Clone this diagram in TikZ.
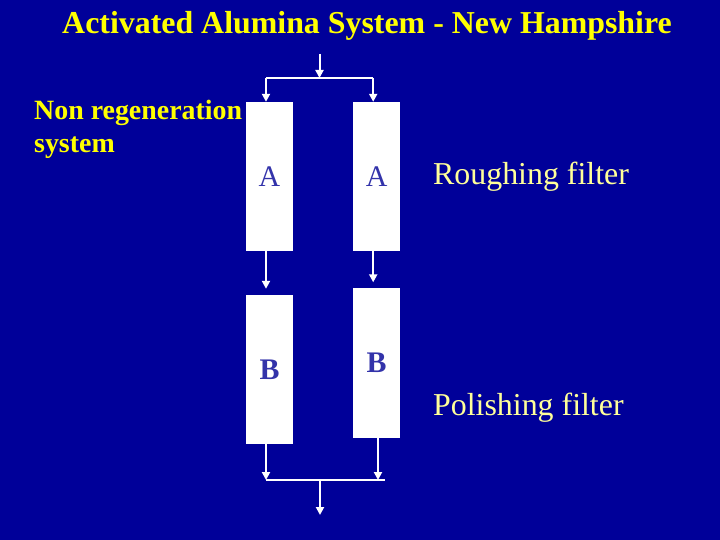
\documentclass[tikz,border=0pt]{standalone}
\usepackage{fontspec}
\setmainfont{Liberation Serif}
\usetikzlibrary{arrows.meta}

\definecolor{slideblue}{RGB}{0,0,153}
\definecolor{titleyellow}{RGB}{255,255,0}
\definecolor{paleyellow}{RGB}{255,255,153}
\definecolor{letterblue}{RGB}{51,51,170}

\begin{document}
\begin{tikzpicture}[
  x=1bp, y=-1bp,
  filter/.style={draw=none, fill=white, inner sep=0pt, minimum width=47bp, minimum height=149bp, text=letterblue, font=\fontsize{30}{30}\selectfont},
  heading/.style={text=titleyellow, font=\bfseries\fontsize{32}{34}\selectfont, inner sep=0pt},
  note/.style={text=paleyellow, font=\fontsize{32}{36}\selectfont, inner sep=0pt, anchor=base west},
  pipe/.style={draw=white, line width=2bp},
  flow/.style={pipe, -{Triangle[length=8bp, width=8bp]}}
]
\fill[slideblue] (0,0) rectangle (720,540);
\useasboundingbox (0,0) rectangle (720,540);

\node[heading, anchor=base] (title) at (367,34) {Activated Alumina System - New Hampshire};
\node[heading, anchor=base west, align=left, font=\bfseries\fontsize{28}{34}\selectfont] (kind) at (34,153) {Non regeneration\\system};

\node[filter] (roughL) at (269.5,176.5) {A};
\node[filter] (roughR) at (376.7,176.5) {A};
\node[filter, font=\bfseries\fontsize{30}{30}\selectfont] (polishL) at (269.5,369.5) {B};
\node[filter, font=\bfseries\fontsize{30}{30}\selectfont] (polishR) at (376.7,363) {B};

\node[note] (rough) at (433,185) {Roughing filter};
\node[note] (polish) at (433,415) {Polishing filter};

\coordinate (feed) at (319.5,54);
\coordinate (split) at (319.5,78);
\coordinate (merge) at (320,480);
\coordinate (out) at (320,515);

\draw[flow] (feed) -- (split);
\draw[pipe] ([xshift=-3.5bp]roughL.north |- split) -- ([xshift=-3.5bp]roughR.north |- split);
\draw[flow] ([xshift=-3.5bp]roughL.north |- split) -- ([xshift=-3.5bp]roughL.north);
\draw[flow] ([xshift=-3.5bp]roughR.north |- split) -- ([xshift=-3.5bp]roughR.north);
\draw[flow, shorten >=6bp] ([xshift=-3.5bp]roughL.south) -- ([xshift=-3.5bp]polishL.north);
\draw[flow, shorten >=6bp] ([xshift=-3.5bp]roughR.south) -- ([xshift=-3.5bp]polishR.north);
\draw[pipe] ([xshift=-3.5bp]polishL.south |- merge) -- ([xshift=8bp]polishR.south |- merge);
\draw[flow] ([xshift=-3.5bp]polishL.south) -- ([xshift=-3.5bp]polishL.south |- merge);
\draw[flow] ([xshift=1.3bp]polishR.south) -- ([xshift=1.3bp]polishR.south |- merge);
\draw[flow] (merge) -- (out);
\end{tikzpicture}
\end{document}
